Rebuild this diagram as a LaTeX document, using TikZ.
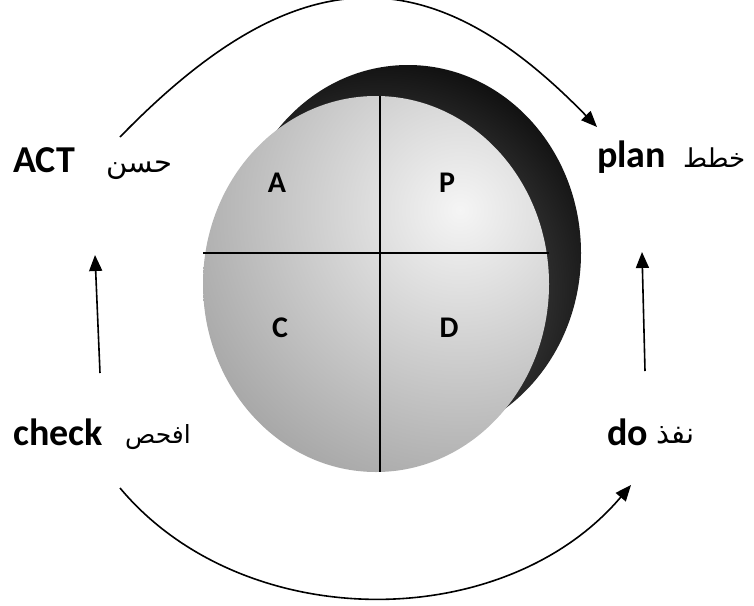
\documentclass[tikz,border=0pt]{standalone}
\usepackage{fontspec}
\setmainfont{Carlito}
\newfontfamily\arabicfont[Script=Arabic]{DejaVu Sans}
\TeXXeTstate=1
\usetikzlibrary{arrows.meta}
\begin{document}
\begin{tikzpicture}[x=1pt,y=-1pt,
  lbl/.style={font=\bfseries\fontsize{38}{40}\selectfont, inner sep=0pt, anchor=base west},
  arb/.style={font=\arabicfont\fontsize{29}{34}\selectfont, inner sep=0pt, anchor=base west},
  quad/.style={font=\bfseries\fontsize{30}{32}\selectfont, inner sep=0pt},
  conn/.style={line width=1.6pt, -{Triangle[length=16pt,width=13pt]}},
  divider/.style={line width=1.2pt}]
\useasboundingbox (0,0) rectangle (754,605);

% back (dark) disc
\begin{scope}
  \clip (408,253) ellipse [x radius=173, y radius=188];
  \shade[inner color=black!55, outer color=black!95] (380,290) circle (240);
\end{scope}
% front (light) disc
\begin{scope}
  \clip (376,284) ellipse [x radius=173, y radius=188];
  \shade[inner color=black!4, outer color=black!38] (460,210) circle (330);
\end{scope}

% dividing lines
\coordinate (hl) at (203,253);
\coordinate (hr) at (549,253);
\coordinate (vt) at (380,96);
\coordinate (vb) at (380,472);
\draw[divider] (hl) -- (hr);
\draw[divider] (vt) -- (vb);

% quadrant letters
\node[quad] (qa) at (277,183) {A};
\node[quad] (qp) at (447,183) {P};
\node[quad] (qc) at (280,328) {C};
\node[quad] (qd) at (449,328) {D};

% labels
\node[lbl] (act) at (13,172) {ACT};
\node[arb] (actar) at (106,172) {\beginR حسن\endR};
\node[lbl] (plan) at (597,167) {plan};
\node[arb, font=\arabicfont\fontsize{26}{30}\selectfont] (planar) at (683,167) {\beginR خطط\endR};
\node[lbl] (check) at (13,445) {check};
\node[arb, font=\arabicfont\fontsize{25}{30}\selectfont] (checkar) at (125,443) {\beginR افحص\endR};
\node[lbl] (do) at (607,445) {do};
\node[arb] (doar) at (656,443) {\beginR نفذ\endR};

% connector ends
\coordinate (ts) at (120,137);
\coordinate (te) at (597,127);
\coordinate (bs) at (120,488);
\coordinate (be) at (631,485);
\coordinate (ls) at (100,373);
\coordinate (le) at (95,255);
\coordinate (rs) at (645,371);
\coordinate (re) at (642,252);

\draw[conn] (ts) .. controls (297,-45) and (430,-45) .. (te);
\draw[conn] (bs) .. controls (243,635) and (504,635) .. (be);
\draw[conn] (ls) -- (le);
\draw[conn] (rs) -- (re);
\end{tikzpicture}
\end{document}
